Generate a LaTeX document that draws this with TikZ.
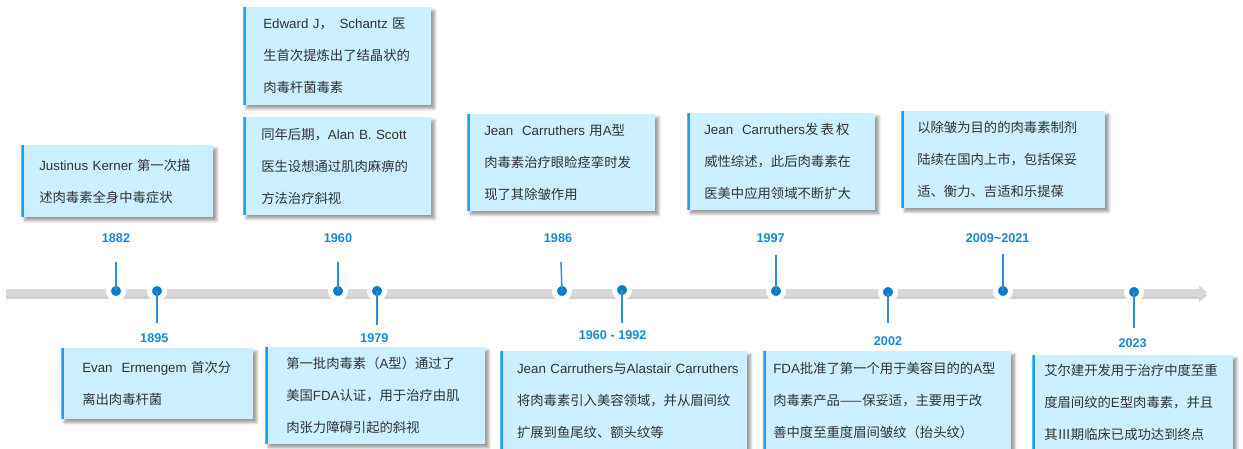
\documentclass[tikz,border=0pt]{standalone}
\usepackage{fontspec}
\setmainfont{Noto Sans CJK SC}
\newfontfamily\en{Liberation Sans}
\usepackage{tikz}
\usetikzlibrary{arrows.meta, shadows.blur}
\definecolor{boxblue}{HTML}{CCF0FF}
\definecolor{edgeblue}{HTML}{1E9FF0}
\definecolor{dotblue}{HTML}{0A7BCB}
\definecolor{stemblue}{HTML}{2A90D8}
\definecolor{yearblue}{HTML}{1A87D2}
\definecolor{bargray}{HTML}{D8D8D8}
\definecolor{textgray}{HTML}{333333}
\tikzstyle{event} = [rectangle, anchor=north west, fill=boxblue, text=textgray, align=left, inner ysep=0pt, font=\fontsize{10pt}{24pt}\selectfont, blur shadow={shadow xshift=2.5pt, shadow yshift=-2.5pt, shadow blur steps=6, shadow opacity=40}, path picture={\fill [edgeblue] (path picture bounding box.south west) rectangle ([xshift=2.3pt]path picture bounding box.north west);}]
\tikzstyle{year} = [text=yearblue, font=\en\bfseries\fontsize{9.5pt}{11pt}\selectfont]
\tikzstyle{dot} = [circle, fill=dotblue, draw=white, line width=3.75pt, minimum size=11.25pt, inner sep=0pt]
\tikzstyle{stem} = [draw=stemblue, line width=1.1pt]
\tikzstyle{bar} = [line width=5.25pt, draw=bargray, -{Triangle[length=6pt,width=10pt]}]
\tikzstyle{barshadow} = [line width=5.25pt, draw=black!18, -{Triangle[length=6pt,width=10pt]}]

\begin{document}
\begin{tikzpicture}[x=0.75pt, y=-0.75pt, node distance=40pt]
\useasboundingbox (0,0) rectangle (1243,449);

% timeline
\coordinate (start) at (6,292);
\coordinate (end) at (1207,292);
\draw [barshadow] ([yshift=-2.5pt]start) -- ([yshift=-2.5pt]end);
\draw [bar] (start) -- (end);

% dots
\node (d1882) [dot] at (116,291) {};
\node (d1895) [dot] at (157,291) {};
\node (d1960) [dot] at (338,291) {};
\node (d1979) [dot] at (377,291) {};
\node (d1986) [dot] at (562,291) {};
\node (d1992) [dot] at (622,290) {};
\node (d1997) [dot] at (776,291) {};
\node (d2002) [dot] at (888,292) {};
\node (d2009) [dot] at (1003,291) {};
\node (d2023) [dot] at (1134,292) {};

% stems
\coordinate (s1882) at (116,262);
\coordinate (s1895) at (157,323);
\coordinate (s1960) at (338,262);
\coordinate (s1979) at (377,325);
\coordinate (s1986) at (561,262);
\coordinate (s1992) at (622,323);
\coordinate (s1997) at (776,255);
\coordinate (s2002) at (888,323);
\coordinate (s2009) at (1003,254);
\coordinate (s2023) at (1134,328);
\draw [stem] (s1882) -- (d1882.center);
\draw [stem] (s1895) -- (d1895.center);
\draw [stem] (s1960) -- (d1960.center);
\draw [stem] (s1979) -- (d1979.center);
\draw [stem] (s1986) -- (d1986.center);
\draw [stem] (s1992) -- (d1992.center);
\draw [stem] (s1997) -- (d1997.center);
\draw [stem] (s2002) -- (d2002.center);
\draw [stem] (s2009) -- (d2009.center);
\draw [stem] (s2023) -- (d2023.center);

% years
\node (y1882) [year, above of=d1882] {1882};
\node (y1960) [year, above of=d1960] {1960};
\node (y1986) [year, above of=d1986, xshift=-3pt] {1986};
\node (y1997) [year, above of=d1997, xshift=-4pt] {1997};
\node (y2009) [year, above of=d2009, xshift=-4pt] {2009\char`\~2021};
\node (y1895) [year, below of=d1895, yshift=5pt, xshift=-2pt] {1895};
\node (y1979) [year, below of=d1979, yshift=5pt, xshift=-2pt] {1979};
\node (y1992) [year, below of=d1992, yshift=6pt, xshift=-7pt] {1960 - 1992};
\node (y2002) [year, below of=d2002, yshift=3pt] {2002};
\node (y2023) [year, below of=d2023, yshift=2pt, xshift=-1pt] {2023};

% events above
\node (kerner) [event, text width=117pt, inner xsep=13.5pt, minimum height=54pt] at (21,145) {{\en Justinus Kerner }第一次描\\述肉毒素全身中毒症状};
\node (schantz) [event, text width=111pt, inner xsep=15pt, minimum height=73.5pt] at (243,7) {{\en Edward J}，\hspace{5pt}{\en Schantz }医\\生首次提炼出了结晶状的\\肉毒杆菌毒素};
\node (scott) [event, text width=114pt, inner xsep=13.5pt, minimum height=73.5pt] at (243,117) {同年后期，{\en Alan B. Scott}\\医生设想通过肌肉麻痹的\\方法治疗斜视};
\node (jean) [event, text width=115.5pt, inner xsep=12.75pt, minimum height=72.75pt] at (467,114) {{\en Jean\ \ Carruthers }用{\en A}型\\肉毒素治疗眼睑痉挛时发\\现了其除皱作用};
\node (review) [event, text width=115.5pt, inner xsep=12.75pt, minimum height=72.75pt] at (687,113) {{\en Jean\ \ Carruthers}发\,表\,权\\威性综述，此后肉毒素在\\医美中应用领域不断扩大};
\node (china) [event, text width=129pt, inner xsep=12pt, minimum height=72.75pt] at (901,111) {以除皱为目的的肉毒素制剂\\陆续在国内上市，包括保妥\\适、衡力、吉适和乐提葆};

% events below
\node (ermengem) [event, text width=112.5pt, inner xsep=15.75pt, minimum height=53.25pt] at (61,348) {{\en Evan\ \ Ermengem }首次分\\离出肉毒杆菌};
\node (fda) [event, text width=133.5pt, inner xsep=15.75pt, minimum height=72.75pt] at (265,347) {第一批肉毒素（{\en A}型）通过了\\美国{\en FDA}认证，用于治疗由肌\\肉张力障碍引起的斜视};
\node (cosmetic) [event, text width=160pt, inner xsep=12.6pt, minimum height=73.5pt] at (500,351) {\mbox{{\en Jean Carruthers}与{\en Alastair Carruthers}}\\将肉毒素引入美容领域，并从眉间纹\\扩展到鱼尾纹、额头纹等};
\node (botox) [event, text width=171pt, inner xsep=7.5pt, minimum height=73.5pt] at (763,351) {{\en FDA}批准了第一个用于美容目的的{\en A}型\\肉毒素产品——保妥适，主要用于改\\善中度至重度眉间皱纹（抬头纹）};
\node (allergan) [event, text width=132.75pt, inner xsep=9pt, minimum height=70.5pt] at (1032,355) {艾尔建开发用于治疗中度至重\\度眉间纹的{\en E}型肉毒素，并且\\其Ⅲ期临床已成功达到终点};

\end{tikzpicture}
\end{document}
